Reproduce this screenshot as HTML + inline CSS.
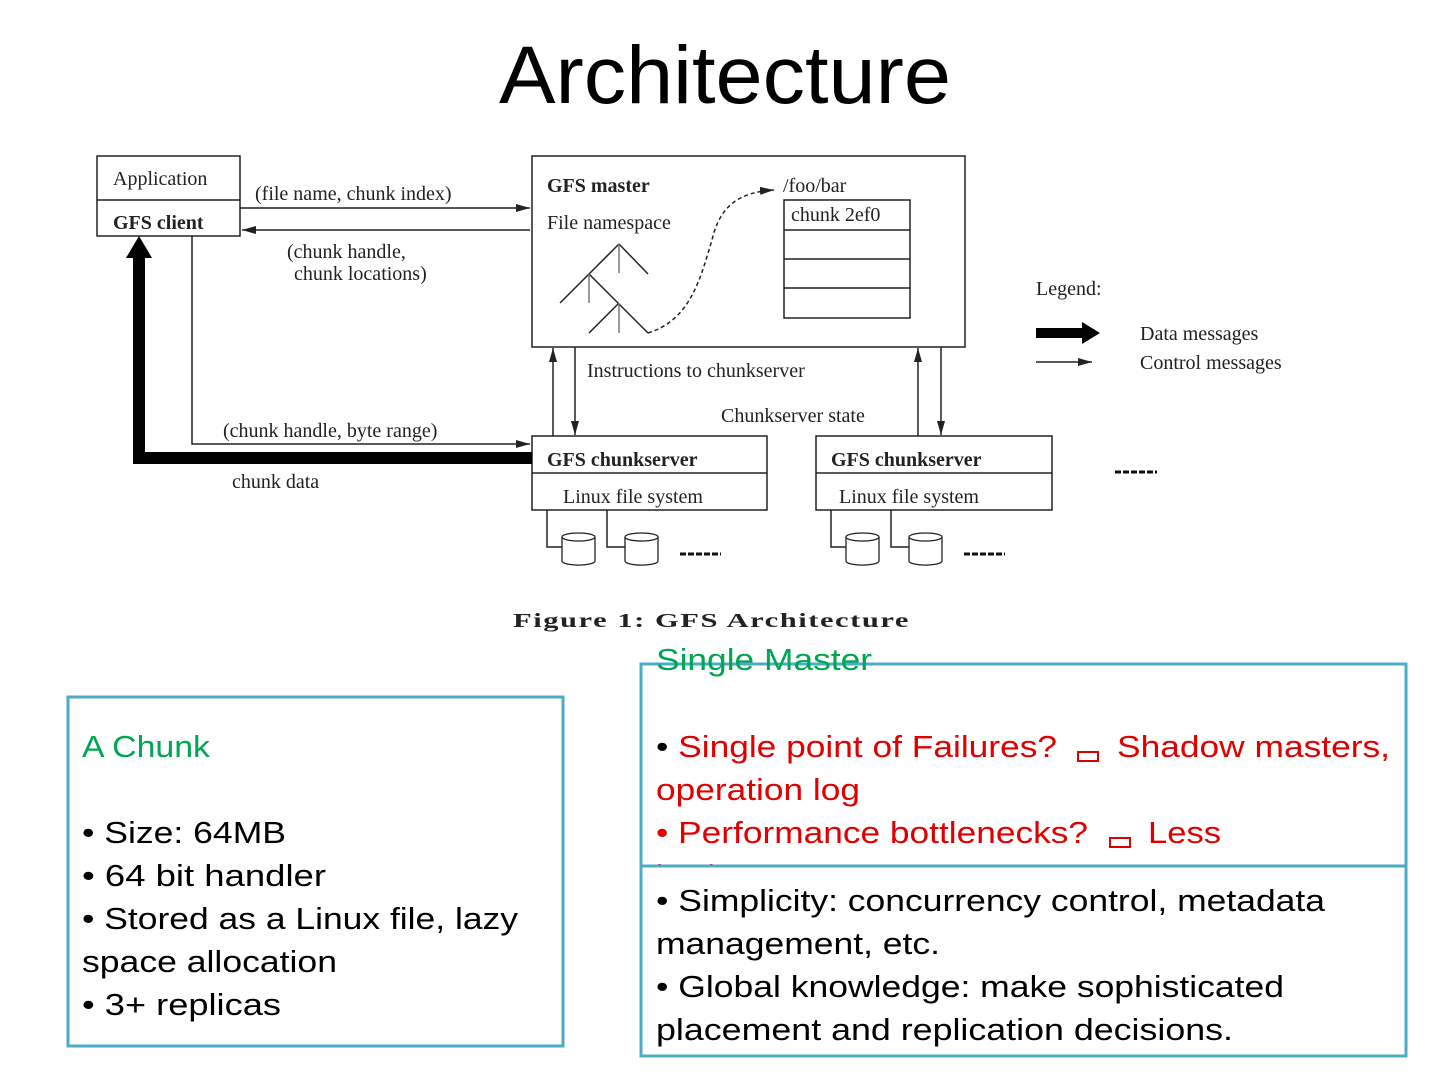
<!DOCTYPE html>
<html><head><meta charset="utf-8"><style>
html,body{margin:0;padding:0;background:#fff;}
svg{display:block;}
.s{font-family:"Liberation Serif",serif;font-size:20px;fill:#222;}
.b{font-weight:bold;}
.t{font-family:"Liberation Sans",sans-serif;font-size:31px;}
</style></head><body>
<svg width="1440" height="1080" viewBox="0 0 1440 1080" xmlns="http://www.w3.org/2000/svg">
<defs>
<marker id="a" markerWidth="14" markerHeight="8" refX="14" refY="4" orient="auto" markerUnits="userSpaceOnUse"><path d="M0,0 L14,4 L0,8 Z" fill="#222"/></marker>
</defs>
<text x="725" y="103" text-anchor="middle" font-family="Liberation Sans,sans-serif" font-size="82" textLength="452" lengthAdjust="spacingAndGlyphs" fill="#000">Architecture</text>

<g stroke="#222" stroke-width="1.5" fill="none">
<rect x="97" y="156" width="143" height="80"/>
<line x1="97" y1="200" x2="240" y2="200"/>
<line x1="240" y1="208" x2="530" y2="208" marker-end="url(#a)"/>
<line x1="530" y1="230" x2="242" y2="230" marker-end="url(#a)"/>
<rect x="532" y="156" width="433" height="191"/>
<line x1="619" y1="244" x2="648" y2="274"/><line x1="619" y1="244" x2="589" y2="274"/><line x1="619" y1="244" x2="619" y2="273" stroke="#777"/>
<line x1="589" y1="274" x2="560" y2="303"/><line x1="589" y1="274" x2="648" y2="333"/><line x1="589" y1="274" x2="589" y2="303" stroke="#777"/>
<line x1="619" y1="303" x2="589" y2="333"/><line x1="619" y1="303" x2="619" y2="333" stroke="#777"/>
<path d="M648,333 C690,320 700,280 712,240 C720,205 740,192 774,190" stroke-dasharray="4,3" marker-end="url(#a)"/>
<rect x="784" y="200" width="126" height="118"/>
<line x1="784" y1="230" x2="910" y2="230"/><line x1="784" y1="259" x2="910" y2="259"/><line x1="784" y1="288" x2="910" y2="288"/>
<line x1="553" y1="436" x2="553" y2="348" marker-end="url(#a)"/>
<line x1="575" y1="347" x2="575" y2="435" marker-end="url(#a)"/>
<line x1="918" y1="436" x2="918" y2="348" marker-end="url(#a)"/>
<line x1="941" y1="347" x2="941" y2="435" marker-end="url(#a)"/>
<rect x="532" y="436" width="235" height="74"/><line x1="532" y1="473" x2="767" y2="473"/>
<rect x="816" y="436" width="236" height="74"/><line x1="816" y1="473" x2="1052" y2="473"/>
<polyline points="192,236 192,444 530,444" marker-end="url(#a)"/>
<polyline points="547,510 547,547 562,547"/><polyline points="607,510 607,547 625,547"/>
<polyline points="831,510 831,547 846,547"/><polyline points="891,510 891,547 909,547"/>
<line x1="1036" y1="362" x2="1092" y2="362" marker-end="url(#a)"/>
</g>
<g stroke="#222" stroke-width="1.3" fill="#fff">
<path d="M562,537 v24 a16,4 0 0 0 33,0 v-24"/><ellipse cx="578.5" cy="537" rx="16.5" ry="4"/>
<path d="M625,537 v24 a16,4 0 0 0 33,0 v-24"/><ellipse cx="641.5" cy="537" rx="16.5" ry="4"/>
<path d="M846,537 v24 a16,4 0 0 0 33,0 v-24"/><ellipse cx="862.5" cy="537" rx="16.5" ry="4"/>
<path d="M909,537 v24 a16,4 0 0 0 33,0 v-24"/><ellipse cx="925.5" cy="537" rx="16.5" ry="4"/>
</g>
<g stroke="#111" stroke-width="3" stroke-dasharray="6,2">
<line x1="680" y1="554" x2="721" y2="554"/><line x1="964" y1="554" x2="1005" y2="554"/><line x1="1115" y1="472" x2="1157" y2="472"/>
</g>
<polyline points="532,458 139,458 139,256" stroke="#000" stroke-width="12" fill="none"/>
<path d="M126,258 L152,258 L139,236 Z" fill="#000"/>
<line x1="1036" y1="333" x2="1085" y2="333" stroke="#000" stroke-width="10"/>
<path d="M1082,322 L1100,333 L1082,344 Z" fill="#000"/>

<text class="s" x="113" y="185">Application</text>
<text class="s b" x="113" y="229">GFS client</text>
<text class="s" x="255" y="200">(file name, chunk index)</text>
<text class="s" x="287" y="258">(chunk handle,</text>
<text class="s" x="294" y="280">chunk locations)</text>
<text class="s b" x="547" y="192">GFS master</text>
<text class="s" x="547" y="229">File namespace</text>
<text class="s" x="783" y="192">/foo/bar</text>
<text class="s" x="791" y="221">chunk 2ef0</text>
<text class="s" x="587" y="377">Instructions to chunkserver</text>
<text class="s" x="721" y="422">Chunkserver state</text>
<text class="s" x="223" y="437">(chunk handle, byte range)</text>
<text class="s" x="232" y="488">chunk data</text>
<text class="s b" x="547" y="466">GFS chunkserver</text>
<text class="s" x="563" y="503">Linux file system</text>
<text class="s b" x="831" y="466">GFS chunkserver</text>
<text class="s" x="839" y="503">Linux file system</text>
<text class="s" x="1036" y="295">Legend:</text>
<text class="s" x="1140" y="340">Data messages</text>
<text class="s" x="1140" y="369">Control messages</text>
<text class="s b" x="513" y="627" font-size="22" textLength="397" lengthAdjust="spacingAndGlyphs" letter-spacing="1">Figure 1: GFS Architecture</text>

<rect x="68" y="697" width="495" height="349" fill="none" stroke="#4bacc6" stroke-width="3"/>
<g class="t">
<text x="82" y="757" fill="#00a651" textLength="128" lengthAdjust="spacingAndGlyphs">A Chunk</text>
<text x="82" y="843" textLength="204" lengthAdjust="spacingAndGlyphs">• Size: 64MB</text>
<text x="82" y="886" textLength="244" lengthAdjust="spacingAndGlyphs">• 64 bit handler</text>
<text x="82" y="929" textLength="436" lengthAdjust="spacingAndGlyphs">• Stored as a Linux file, lazy</text>
<text x="82" y="972" textLength="255" lengthAdjust="spacingAndGlyphs">space allocation</text>
<text x="82" y="1015" textLength="199" lengthAdjust="spacingAndGlyphs">• 3+ replicas</text>
</g>

<rect x="641" y="664" width="765" height="202" fill="none" stroke="#4bacc6" stroke-width="3"/>
<g class="t">
<text x="656" y="670" fill="#00a651" textLength="216" lengthAdjust="spacingAndGlyphs">Single Master</text>
<text x="656" y="757" fill="#e00000" textLength="401" lengthAdjust="spacingAndGlyphs"><tspan fill="#000">•</tspan> Single point of Failures?</text>
<text x="1117" y="757" fill="#e00000" textLength="273" lengthAdjust="spacingAndGlyphs">Shadow masters,</text>
<text x="656" y="800" fill="#e00000" textLength="204" lengthAdjust="spacingAndGlyphs">operation log</text>
<text x="656" y="843" fill="#e00000" textLength="432" lengthAdjust="spacingAndGlyphs">• Performance bottlenecks?</text>
<text x="1148" y="843" fill="#e00000" textLength="73" lengthAdjust="spacingAndGlyphs">Less</text>
<text x="656" y="886" fill="#e00000">load on master</text>
</g>
<rect x="1078" y="752" width="20" height="9" fill="none" stroke="#e00000" stroke-width="2"/>
<rect x="1110" y="838" width="20" height="9" fill="none" stroke="#e00000" stroke-width="2"/>
<rect x="641" y="866" width="765" height="190" fill="#fff" stroke="#4bacc6" stroke-width="3"/>
<g class="t">
<text x="656" y="911" textLength="669" lengthAdjust="spacingAndGlyphs">• Simplicity: concurrency control, metadata</text>
<text x="656" y="954" textLength="284" lengthAdjust="spacingAndGlyphs">management, etc.</text>
<text x="656" y="997" textLength="628" lengthAdjust="spacingAndGlyphs">• Global knowledge: make sophisticated</text>
<text x="656" y="1040" textLength="577" lengthAdjust="spacingAndGlyphs">placement and replication decisions.</text>
</g>
</svg>
</body></html>
